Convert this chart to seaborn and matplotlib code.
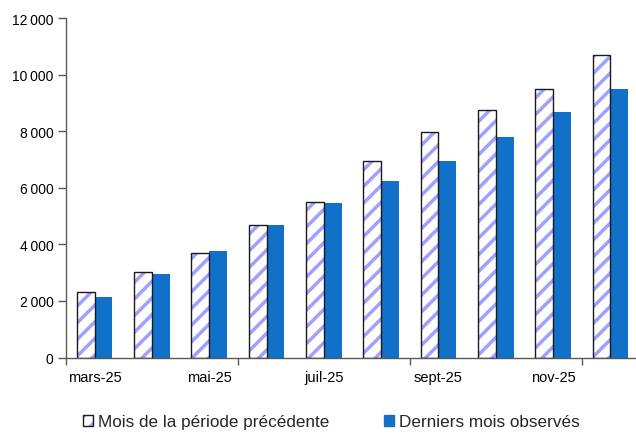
#!/usr/bin/env python3

import pandas as pd
import seaborn as sns
import matplotlib.pyplot as plt
from matplotlib.patches import Patch, Rectangle
from matplotlib.ticker import FuncFormatter, FixedLocator

MONTHS = ["mars-25", "avr-25", "mai-25", "juin-25", "juil-25",
          "août-25", "sept-25", "oct-25", "nov-25", "déc-25"]
PREVIOUS = [2300, 3010, 3700, 4680, 5480, 6950, 7960, 8750, 9490, 10700]
OBSERVED = [2150, 2950, 3760, 4670, 5450, 6230, 6940, 7780, 8680, 9480]
SHOWN_LABELS = ["mars-25", "mai-25", "juil-25", "sept-25", "nov-25"]

LBL_PREV = "Mois de la période précédente"
LBL_OBS = "Derniers mois observés"

BLUE = "#1170C8"
HATCH = "#A0A0FF"
EDGE = "#1a1a1a"

df = pd.DataFrame({
    "mois": MONTHS * 2,
    "valeur": PREVIOUS + OBSERVED,
    "serie": [LBL_PREV] * len(MONTHS) + [LBL_OBS] * len(MONTHS),
})

sns.set_theme(style="white")
plt.rcParams["font.family"] = ["Liberation Sans", "DejaVu Sans"]
plt.rcParams["hatch.linewidth"] = 2.5

fig = plt.figure(figsize=(6.36, 4.35), dpi=100)
ax = fig.add_axes([66 / 636, 1 - 358.5 / 435, 573 / 636, 339.5 / 435])

sns.barplot(data=df, x="mois", y="valeur", hue="serie", order=MONTHS,
            hue_order=[LBL_PREV, LBL_OBS], palette=["white", BLUE],
            width=0.62, gap=0, saturation=1, legend=False, ax=ax)

# hatched bars: stripes drawn in the edge colour, then a black outline on top
for p in ax.containers[0]:
    p.set_facecolor("white")
    p.set_edgecolor(HATCH)
    p.set_linewidth(0)
    p.set_hatch("//")
    ax.add_patch(Rectangle(p.get_xy(), p.get_width(), p.get_height(),
                           fill=False, edgecolor=EDGE, linewidth=1.0, zorder=p.get_zorder() + 0.1))
for p in ax.containers[1]:
    p.set_edgecolor(BLUE)
    p.set_linewidth(0)

ax.set_xlim(-0.5, len(MONTHS) - 0.5)
ax.set_ylim(0, 12000)
ax.set_yticks(range(0, 12001, 2000))
ax.yaxis.set_major_formatter(FuncFormatter(lambda v, _: f"{int(v):,}".replace(",", "\u202f")))

ax.set_xticks([MONTHS.index(m) for m in SHOWN_LABELS])
ax.set_xticklabels(SHOWN_LABELS)
ax.xaxis.set_minor_locator(FixedLocator([-0.5, 2.5, 5.5, 8.5]))
ax.tick_params(axis="x", which="major", length=0, pad=9, labelsize=10.5, colors="black")
ax.tick_params(axis="x", which="minor", length=5, width=1, color="#595959", direction="out", bottom=True)
ax.tick_params(axis="y", length=6, width=1, color="#595959", direction="out", left=True, pad=3,
               labelsize=10, labelcolor="black")

for side in ["top", "right"]:
    ax.spines[side].set_visible(False)
for side in ["left", "bottom"]:
    ax.spines[side].set_color("#595959")
    ax.spines[side].set_linewidth(1)

ax.set_xlabel("")
ax.set_ylabel("")
ax.grid(False)

prev_handle = (Patch(facecolor="white", edgecolor=HATCH, hatch="//", linewidth=0),
               Patch(fill=False, edgecolor=EDGE, linewidth=1.0))
obs_handle = Patch(facecolor=BLUE, edgecolor=BLUE)
fig.legend(handles=[prev_handle, obs_handle], labels=[LBL_PREV, LBL_OBS],
           loc="center", bbox_to_anchor=(0.521, 1 - 423 / 435), ncol=2,
           frameon=False, fontsize=12.3, handlelength=0.6, handleheight=0.6,
           handletextpad=0.3, columnspacing=3.2)

plt.savefig("out.png", dpi=100)
